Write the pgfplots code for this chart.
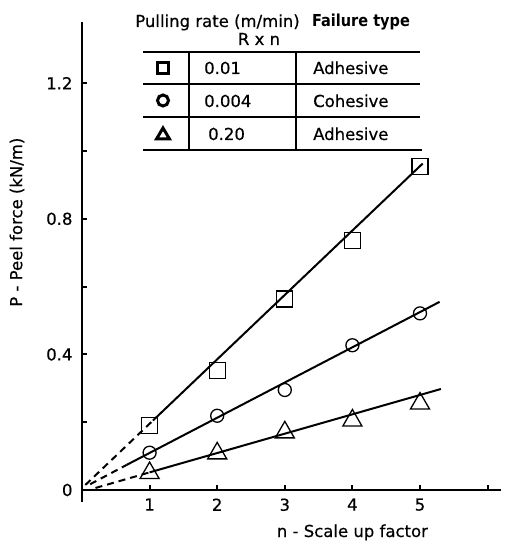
\documentclass[border=0pt]{standalone}
\usepackage{pgfplots}
\pgfplotsset{compat=1.18}
\usepackage{fontspec}
\setmainfont{DejaVu Sans}[UprightFeatures={FakeBold=0.5}]
\begin{document}
\begin{tikzpicture}[font=\fontsize{16.5bp}{19bp}\selectfont]
\useasboundingbox (-82bp,-56bp) rectangle (423bp,490bp);
\begin{axis}[
  x=67.6bp, y=339bp,
  anchor=origin, at={(0,0)},
  xmin=0, xmax=6.2, ymin=0, ymax=1.38,
  axis x line*=bottom, axis y line*=left,
  axis line style={-, line width=2.2bp},
  clip=false,
  tick align=inside,
  major tick length=5bp,
  tick style={line width=2bp, black},
  xtick={1,2,3,4,5,6},
  xticklabels={1,2,3,4,5,{}},
  ytick={0,0.2,0.4,0.6,0.8,1.0,1.2},
  yticklabels={0,{},0.4,{},0.8,{},1.2},
  xticklabel style={yshift=-5bp},
  yticklabel style={xshift=-6bp},
  xlabel={n - Scale up factor},
  xlabel style={at={(axis cs:4,0)}, anchor=base, yshift=-47bp},
  ylabel={P - Peel force (kN/m)},
  ylabel style={at={([xshift=-65bp]axis cs:0,0.79)}, anchor=center},
]
\draw[line width=2.2bp] (axis cs:0,0) -- (axis cs:0,-0.035);
% fitted lines
\addplot[line width=2bp] coordinates {(1.05,0.205) (5.04,0.963)};
\addplot[line width=2bp, dash pattern=on 7bp off 5bp] coordinates {(0.05,0.015) (1.05,0.205)};
\addplot[line width=2bp] coordinates {(0.66,0.074) (5.29,0.555)};
\addplot[line width=2bp, dash pattern=on 7bp off 5bp] coordinates {(0.12,0.017) (0.66,0.074)};
\addplot[line width=2bp] coordinates {(1,0.052) (5.31,0.298)};
\addplot[line width=2bp, dash pattern=on 7bp off 5bp] coordinates {(0.2,0.006) (1,0.052)};
% data
\addplot[only marks, mark=square, mark size=8bp, mark options={line width=1.3bp}]
  coordinates {(1,0.19) (2,0.353) (3,0.563) (4,0.735) (5,0.954)};
\addplot[only marks, mark=o, mark size=6.5bp, mark options={line width=1.3bp}]
  coordinates {(1,0.11) (2,0.219) (3,0.295) (4,0.427) (5,0.521)};
\addplot[only marks, mark=triangle, mark size=11bp, mark options={line width=1.3bp}]
  coordinates {(1,0.05) (2,0.108) (3,0.17) (4,0.205) (5,0.255)};
\end{axis}
% legend table
\begin{scope}[line width=1.2bp]
\draw (61bp,438bp) -- (338bp,438bp);
\draw (61bp,406bp) -- (338bp,406bp);
\draw (61bp,373bp) -- (338bp,373bp);
\draw (61bp,340bp) -- (340bp,340bp);
\draw (107bp,438bp) -- (107bp,340bp);
\draw (214bp,438bp) -- (214bp,340bp);
\end{scope}
\node[anchor=base] at (135.5bp,463bp) {Pulling rate (m/min)};
\node[anchor=base] at (279bp,463bp) {\scalebox{0.88}[1]{\bfseries Failure type}};
\node[anchor=base] at (177bp,445bp) {R x n};
\node at (81bp,422bp) {\tikz\draw[line width=3bp] (0,0) rectangle (10.5bp,10.5bp);};
\node at (81bp,389.5bp) {\tikz\draw[line width=3bp] (0,0) circle (5.5bp);};
\node at (81bp,356.5bp) {\tikz\draw[line width=3bp, line join=miter] (0,0) -- (13bp,0) -- (6.5bp,11bp) -- cycle;};
\node[anchor=base west, inner sep=0pt] at (122bp,416bp) {0.01};
\node[anchor=base west, inner sep=0pt] at (122bp,383bp) {0.004};
\node[anchor=base west, inner sep=0pt] at (126bp,350bp) {0.20};
\node[anchor=base west, inner sep=0pt] at (231bp,416bp) {Adhesive};
\node[anchor=base west, inner sep=0pt] at (231bp,383bp) {Cohesive};
\node[anchor=base west, inner sep=0pt] at (231bp,350bp) {Adhesive};
\end{tikzpicture}
\end{document}
